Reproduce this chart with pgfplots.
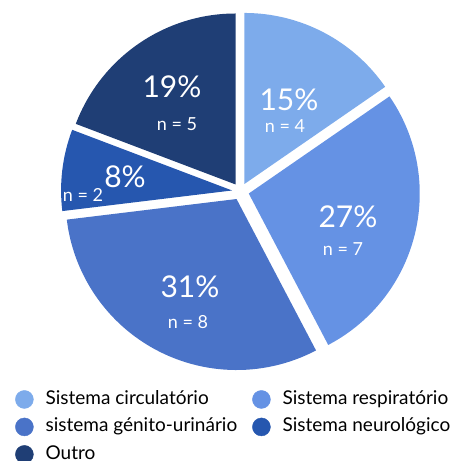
\documentclass[border=0pt]{standalone}
\usepackage{pgfplots}
\pgfplotsset{compat=1.18}
\usepackage{pgfplotstable}
\usepackage{fontspec}
\setmainfont{Lato}
\definecolor{cCirc}{HTML}{7DABEB}
\definecolor{cResp}{HTML}{6592E4}
\definecolor{cGen}{HTML}{4A73C8}
\definecolor{cNeuro}{HTML}{2657AF}
\definecolor{cOutro}{HTML}{1F3E75}
\pgfplotstableread{
cat n
circ 4
resp 7
gen 8
neuro 2
outro 5
}\piedata
\newcommand\slice[3]{%
  \pgfmathsetmacro\bis{(#1+#2)/2}%
  \edef\temp{\noexpand\fill[#3] ([shift={(\bis:8.5bp)}]axis cs:240.5,269.5) -- ++(#1:171bp) arc[start angle=#1, end angle=#2, radius=171bp] -- cycle;}\temp}
\newcommand\pct{\fontsize{30bp}{32bp}\selectfont}
\newcommand\nfont{\fontsize{18bp}{20bp}\selectfont}
\begin{document}%
\begin{tikzpicture}
\pgfplotstablegetelem{0}{n}\of\piedata\let\nA\pgfplotsretval
\pgfplotstablegetelem{1}{n}\of\piedata\let\nB\pgfplotsretval
\pgfplotstablegetelem{2}{n}\of\piedata\let\nC\pgfplotsretval
\pgfplotstablegetelem{3}{n}\of\piedata\let\nD\pgfplotsretval
\pgfplotstablegetelem{4}{n}\of\piedata\let\nE\pgfplotsretval
\pgfmathsetmacro\tot{\nA+\nB+\nC+\nD+\nE}
\pgfmathsetmacro\aA{90}
\pgfmathsetmacro\aB{90-360*(\nA)/\tot}
\pgfmathsetmacro\aC{90-360*(\nA+\nB)/\tot}
\pgfmathsetmacro\aD{90-360*(\nA+\nB+\nC)/\tot}
\pgfmathsetmacro\aE{90-360*(\nA+\nB+\nC+\nD)/\tot}
\pgfmathsetmacro\aF{90-360}
\begin{axis}[
  x=1bp, y=1bp, xmin=0, xmax=465, ymin=0, ymax=461,
  axis lines=none, clip=false,
  legend columns=2,
  legend cell align=left,
  legend style={draw=none, fill=none, at={(axis cs:15,73)}, anchor=north west,
    font=\fontsize{19bp}{22bp}\selectfont, inner sep=0pt, row sep=5bp,
    nodes={inner xsep=12bp, text height=14bp, text depth=4.5bp},
    /tikz/every even column/.append style={column sep=3bp}},
]
\coordinate (BL) at (axis cs:0,0);
\coordinate (TR) at (axis cs:465,461);
\slice{\aA}{\aB}{cCirc}
\slice{\aB}{\aC}{cResp}
\slice{\aC}{\aD}{cGen}
\slice{\aD}{\aE}{cNeuro}
\slice{\aE}{\aF}{cOutro}
\addlegendimage{legend image code/.code={\fill[cCirc] (9bp,0bp) circle[radius=9bp];}}
\addlegendentry{Sistema circulatório}
\addlegendimage{legend image code/.code={\fill[cResp] (9bp,0bp) circle[radius=9bp];}}
\addlegendentry{Sistema respiratório}
\addlegendimage{legend image code/.code={\fill[cGen] (9bp,0bp) circle[radius=9bp];}}
\addlegendentry{sistema génito-urinário}
\addlegendimage{legend image code/.code={\fill[cNeuro] (9bp,0bp) circle[radius=9bp];}}
\addlegendentry{Sistema neurológico}
\addlegendimage{legend image code/.code={\fill[cOutro] (9bp,0bp) circle[radius=9bp];}}
\addlegendentry{Outro}
\node[white, font=\pct] at (axis cs:289,361) {15\%};
\node[white, font=\nfont] at (axis cs:285,335) {n = 4};
\node[white, font=\pct] at (axis cs:348,244) {27\%};
\node[white, font=\nfont] at (axis cs:343,212) {n = 7};
\node[white, font=\pct] at (axis cs:190,174) {31\%};
\node[white, font=\nfont] at (axis cs:188,139) {n = 8};
\node[white, font=\pct] at (axis cs:125,284) {8\%};
\node[white, font=\nfont] at (axis cs:83,266) {n = 2};
\node[white, font=\pct] at (axis cs:172,374) {19\%};
\node[white, font=\nfont] at (axis cs:177,337) {n = 5};
\end{axis}
\pgfresetboundingbox
\useasboundingbox (BL) rectangle (TR);
\end{tikzpicture}%
\end{document}
